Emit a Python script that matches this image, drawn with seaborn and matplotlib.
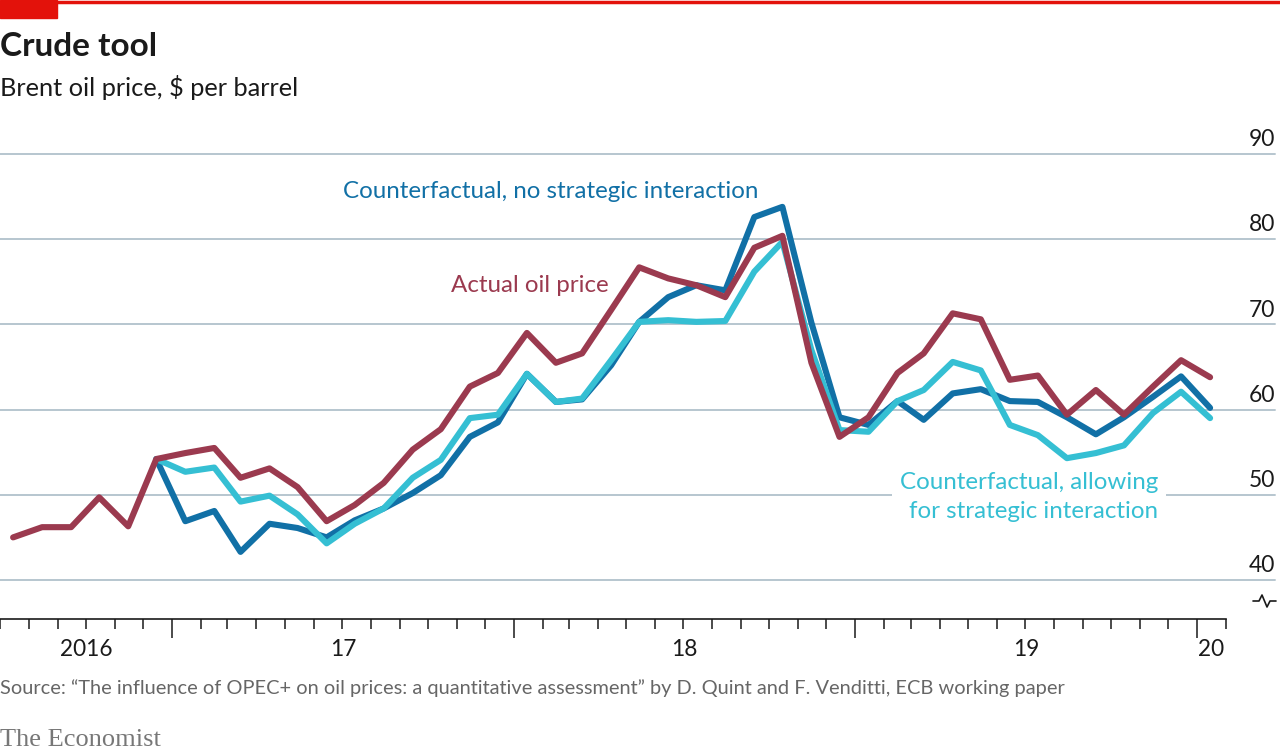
import matplotlib
matplotlib.use("Agg")
import matplotlib.pyplot as plt
import matplotlib.dates as mdates
from matplotlib.lines import Line2D
from matplotlib.patches import Rectangle
import seaborn as sns
import pandas as pd

# ---- data (monthly averages, Jul 2016 - Jan 2020) ----
months = pd.period_range("2016-07", "2020-01", freq="M")

actual = [45.0, 46.2, 46.2, 49.7, 46.3, 54.2,
          54.9, 55.5, 52.0, 53.1, 50.9, 46.9, 48.8, 51.4, 55.3, 57.7, 62.7, 64.3,
          69.0, 65.5, 66.6, 71.7, 76.7, 75.4, 74.6, 73.2, 79.0, 80.4, 65.5, 56.8,
          59.1, 64.3, 66.6, 71.3, 70.6, 63.5, 64.0, 59.4, 62.3, 59.4, 62.7, 65.8,
          63.8]

# counterfactuals start in Dec 2016
cf_months = pd.period_range("2016-12", "2020-01", freq="M")

no_strategic = [54.2,
                46.9, 48.1, 43.3, 46.6, 46.1, 45.0, 47.0, 48.4, 50.2, 52.3, 56.8, 58.5,
                64.2, 60.9, 61.2, 65.2, 70.3, 73.2, 74.6, 74.0, 82.6, 83.8, 70.2, 59.1,
                58.2, 61.0, 58.8, 61.9, 62.4, 61.0, 60.9, 59.1, 57.1, 59.1, 61.5, 63.9,
                60.2]

with_strategic = [54.2,
                  52.7, 53.2, 49.2, 49.9, 47.7, 44.3, 46.6, 48.4, 52.0, 54.1, 59.0, 59.4,
                  64.2, 60.9, 61.3, 65.8, 70.3, 70.5, 70.3, 70.4, 76.2, 79.7, 67.0, 57.6,
                  57.4, 61.0, 62.3, 65.6, 64.6, 58.2, 57.0, 54.3, 54.9, 55.8, 59.6, 62.1,
                  59.0]

yticks = [40, 50, 60, 70, 80, 90]
year_labels = ["2016", "17", "18", "19", "20"]
year_spans = [("2016-07-01", "2017-01-01"), ("2017-01-01", "2018-01-01"),
              ("2018-01-01", "2019-01-01"), ("2019-01-01", "2020-01-01"),
              ("2020-01-01", "2020-02-01")]

RED = "#9B3A4F"
BLUE = "#1170A6"
CYAN = "#35BFD3"
GRID = "#B7C6CF"


def mid_month(p):
    return p.to_timestamp() + pd.Timedelta(days=14)


df = pd.concat([
    pd.DataFrame({"date": [mid_month(p) for p in months], "price": actual,
                  "series": "actual"}),
    pd.DataFrame({"date": [mid_month(p) for p in cf_months], "price": no_strategic,
                  "series": "no"}),
    pd.DataFrame({"date": [mid_month(p) for p in cf_months], "price": with_strategic,
                  "series": "with"}),
])

sns.set_style("white")
plt.rcParams["font.family"] = ["Lato", "DejaVu Sans"]

W, H = 1280, 755
fig = plt.figure(figsize=(12.8, 7.55), dpi=100)
ax_left, ax_right, ax_top, ax_bot = 0, 1226, 137, 619
ax = fig.add_axes([ax_left / W, 1 - ax_bot / H, (ax_right - ax_left) / W,
                   (ax_bot - ax_top) / H])

# gridlines running past the plot area to the labels
for v in yticks:
    ax.axhline(v, xmin=0, xmax=1275 / ax_right, color=GRID, lw=1.4,
               clip_on=False, zorder=1)

sns.lineplot(data=df, x="date", y="price", hue="series",
             hue_order=["no", "with", "actual"],
             palette={"actual": RED, "no": BLUE, "with": CYAN},
             lw=4.4, ax=ax, legend=False, zorder=3)

ax.set_xlim(pd.Timestamp("2016-07-01"), pd.Timestamp("2020-02-01"))
ax.set_ylim(35.42, 92)
ax.set_xlabel("")
ax.set_ylabel("")
ax.set_yticks([])

for s in ["top", "left", "right"]:
    ax.spines[s].set_visible(False)
ax.spines["bottom"].set_color("#1a1a1a")
ax.spines["bottom"].set_linewidth(1.2)

ax.xaxis.set_major_locator(mdates.YearLocator())
ax.xaxis.set_minor_locator(mdates.MonthLocator())
ax.xaxis.set_major_formatter(plt.NullFormatter())
ax.tick_params(axis="x", which="minor", length=7, width=1.1, color="#1a1a1a",
               direction="out", bottom=True)
ax.tick_params(axis="x", which="major", length=14, width=1.1, color="#1a1a1a",
               direction="out", bottom=True)

# year labels centred in each year's visible span
for lab, (a, b) in zip(year_labels, year_spans):
    c = pd.Timestamp(a) + (pd.Timestamp(b) - pd.Timestamp(a)) / 2
    ax.text(c, -31 / (ax_bot - ax_top), lab, transform=ax.get_xaxis_transform(),
            ha="center", va="center", fontsize=16.3, color="#1a1a1a")

# y labels on the right, sitting on their gridlines
for v in yticks:
    ax.text(1275 / ax_right, v + 0.45, str(v), transform=ax.get_yaxis_transform(),
            ha="right", va="bottom", fontsize=16.5, color="#1a1a1a", clip_on=False)

# series labels
fig.text(343 / W, 1 - 191 / H, "Counterfactual, no strategic interaction",
         color=BLUE, fontsize=17.4, ha="left", va="center")
fig.text(451 / W, 1 - 286 / H, "Actual oil price", color=RED, fontsize=17.4,
         ha="left", va="center")
fig.text(1158 / W, 1 - 497 / H, "Counterfactual, allowing\nfor strategic interaction",
         color=CYAN, fontsize=17.4, ha="right", va="center", multialignment="right",
         linespacing=1.42,
         bbox=dict(facecolor="white", edgecolor="none", pad=6), zorder=5)

# axis break mark
bx = [1253, 1259, 1262, 1267, 1270, 1276]
by = [601, 601, 595, 607, 601, 601]
fig.add_artist(Line2D([x / W for x in bx], [1 - y / H for y in by],
                      color="#1a1a1a", lw=1.2))

# header
fig.add_artist(Line2D([0, 1], [1 - 1.5 / H, 1 - 1.5 / H], color="#E3120B", lw=2.5))
fig.add_artist(Rectangle((0, 1 - 18 / H), 57 / W, 18 / H, color="#E3120B",
                         transform=fig.transFigure))
fig.text(0, 1 - 46 / H, "Crude tool", fontsize=24, fontweight="bold",
         color="#1a1a1a", ha="left", va="center")
fig.text(0, 1 - 87 / H, "Brent oil price, $ per barrel", fontsize=18.3,
         color="#1a1a1a", ha="left", va="center")

# footer
fig.text(0, 1 - 688 / H,
         "Source: \u201cThe influence of OPEC+ on oil prices: a quantitative assessment\u201d"
         " by D. Quint and F. Venditti, ECB working paper",
         fontsize=14.4, color="#666666", ha="left", va="center")
fig.text(0, 1 - 740 / H, "The Economist", fontsize=19, color="#777777",
         family="Liberation Serif", ha="left", va="center")

fig.savefig("out.png", dpi=100)
